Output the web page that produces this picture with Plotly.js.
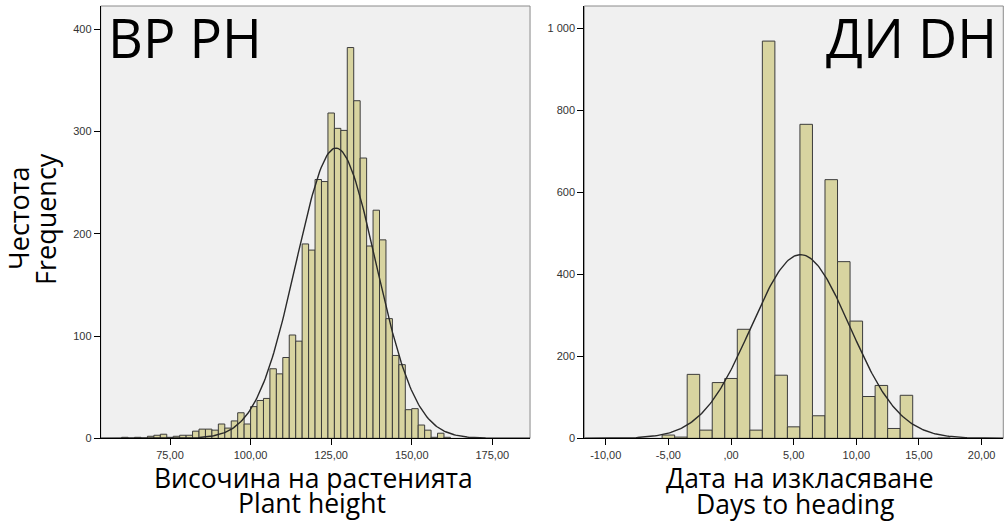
<!DOCTYPE html>
<html>
<head>
<meta charset="utf-8">
<script src="https://cdn.plot.ly/plotly-3.0.1.min.js"></script>
<style>html,body{margin:0;padding:0;background:#fff;}#chart{width:1005px;height:522px;}</style>
</head>
<body>
<div id="chart"></div>
<script>
// ---- Plant height (ВР PH) histogram: bin centres (bin width 2) and counts
const phBinCenters = [61,63,65,67,69,71,73,75,77,79,81,83,85,87,89,91,93,95,97,99,
  101,103,105,107,109,111,113,115,117,119,121,123,125,127,129,131,133,135,137,139,
  141,143,145,147,149,151,153,155,157,159,161];
const phCounts = [1,0,1,0,2,3,4,1,2,3,3,7,9,9,8,14,10,17,25,14,
  31,37,39,68,63,79,101,95,190,184,253,251,318,303,301,382,330,274,188,223,
  194,117,81,72,28,29,13,8,1,5,1];
const phBinWidth = 2;
const phMean = 126.5, phSD = 12.35;
const phTickVals = [75,100,125,150,175];
const phTickText = ["75,00","100,00","125,00","150,00","175,00"];
const phYTickVals = [0,100,200,300,400];
const phYTickText = ["0","100","200","300","400"];

// ---- Days to heading (ДИ DH) histogram: bin centres (bin width 1) and counts
const dhBinCenters = [-5,-4,-3,-2,-1,0,1,2,3,4,5,6,7,8,9,10,11,12,13,14,15,16,17];
const dhCounts = [8,3,156,20,136,146,266,20,969,154,28,766,55,631,431,286,102,129,24,105,0,0,1];
const dhBinWidth = 1;
const dhMean = 5.55, dhSD = 3.95;
const dhTickVals = [-10,-5,0,5,10,15,20];
const dhTickText = ["-10,00","-5,00",",00","5,00","10,00","15,00","20,00"];
const dhYTickVals = [0,200,400,600,800,1000];
const dhYTickText = ["0","200","400","600","800","1 000"];

// fitted normal curve (SPSS-style) from mean, sd and total count
function normalCurve(mean, sd, counts, bw, x0, x1) {
  const n = counts.reduce((a,b)=>a+b,0);
  const xs = [], ys = [];
  const steps = 300;
  for (let i=0;i<=steps;i++){
    const x = x0 + (x1-x0)*i/steps;
    const z = (x-mean)/sd;
    xs.push(x);
    ys.push(n*bw/(sd*Math.sqrt(2*Math.PI))*Math.exp(-0.5*z*z));
  }
  return {xs, ys};
}

const phRange = [53.5, 186.7];
const dhRange = [-11.71, 21.73];
const phCurve = normalCurve(phMean, phSD, phCounts, phBinWidth, phRange[0], phRange[1]);
const dhCurve = normalCurve(dhMean, dhSD, dhCounts, dhBinWidth, dhRange[0], dhRange[1]);

const barFill = '#d8d4a0';
const barLine = '#3c3c3c';
const curveColor = '#2a2a2a';

const traces = [
  {type:'bar', x: phBinCenters, y: phCounts, width: phBinCenters.map(()=>phBinWidth),
   marker:{color:barFill, line:{color:barLine, width:1}}, xaxis:'x', yaxis:'y', hoverinfo:'x+y'},
  {type:'scatter', mode:'lines', x: phCurve.xs, y: phCurve.ys,
   line:{color:curveColor, width:1.4}, xaxis:'x', yaxis:'y', hoverinfo:'skip'},
  {type:'bar', x: dhBinCenters, y: dhCounts, width: dhBinCenters.map(()=>dhBinWidth),
   marker:{color:barFill, line:{color:barLine, width:1}}, xaxis:'x2', yaxis:'y2', hoverinfo:'x+y'},
  {type:'scatter', mode:'lines', x: dhCurve.xs, y: dhCurve.ys,
   line:{color:curveColor, width:1.4}, xaxis:'x2', yaxis:'y2', hoverinfo:'skip'}
];

const tickFont = {family:'Liberation Sans, Arial, sans-serif', size:11, color:'#333'};
const axBase = {showgrid:false, zeroline:false, showline:true, linecolor:'#000', linewidth:1,
  ticks:'outside', ticklen:6, tickcolor:'#000', tickwidth:1, tickfont:tickFont, fixedrange:true};

const yDom = [0.1603, 0.9885];
const xTitleFont = {family:'Open Sans, Noto Sans, sans-serif', size:26.5, color:'#000'};
const yTitleFont = {family:'Open Sans, Noto Sans, sans-serif', size:27, color:'#000'};
const bigFont = {family:'Open Sans, Noto Sans, sans-serif', size:54, color:'#000'};
const H = 522, W = 1005;

function xTitle(text, cx, cy) {
  return {text:text, xref:'paper', yref:'paper', x:cx/W, y:1-cy/H,
    xanchor:'center', yanchor:'middle', borderpad:0, showarrow:false, font:xTitleFont};
}
function yTitle(text, cx, cy) {
  return {text:text, xref:'paper', yref:'paper', x:cx/W, y:1-cy/H,
    xanchor:'center', yanchor:'middle', borderpad:0, textangle:-90, showarrow:false, font:yTitleFont};
}

const layout = {
  width:W, height:H, autosize:false,
  margin:{l:0,r:0,t:0,b:0, pad:0},
  paper_bgcolor:'#ffffff', plot_bgcolor:'#f0f0f0',
  showlegend:false, bargap:0,
  xaxis: Object.assign({}, axBase, {domain:[0.1002,0.5274], range:phRange, tickvals:phTickVals, ticktext:phTickText, anchor:'y'}),
  yaxis: Object.assign({}, axBase, {domain:yDom, range:[0,422.6], tickvals:phYTickVals, ticktext:phYTickText, anchor:'x'}),
  xaxis2: Object.assign({}, axBase, {domain:[0.5814,0.9983], range:dhRange, tickvals:dhTickVals, ticktext:dhTickText, anchor:'y2'}),
  yaxis2: Object.assign({}, axBase, {domain:yDom, range:[0,1054.6], tickvals:dhYTickVals, ticktext:dhYTickText, anchor:'x2'}),
  shapes: [
    {type:'rect', xref:'x domain', yref:'y domain', x0:0, x1:1, y0:0, y1:1, line:{color:'#8a8a8a', width:1}, layer:'below'},
    {type:'rect', xref:'x2 domain', yref:'y2 domain', x0:0, x1:1, y0:0, y1:1, line:{color:'#8a8a8a', width:1}, layer:'below'}
  ],
  annotations: [
    {text:'ВР PH', xref:'paper', yref:'paper', x:106/W, y:1+2/H, xanchor:'left', yanchor:'top', showarrow:false, font:bigFont},
    {text:'ДИ DH', xref:'paper', yref:'paper', x:999/W, y:1+2/H, xanchor:'right', yanchor:'top', showarrow:false, font:bigFont},
    yTitle('Честота', 18, 219),
    yTitle('Frequency', 45, 219),
    xTitle('Височина на растенията', 313, 477.5),
    xTitle('Plant height', 312, 503),
    xTitle('Дата на изкласяване', 800, 478),
    xTitle('Days to heading', 795, 503.5)
  ]
};

Plotly.newPlot('chart', traces, layout, {displayModeBar:false, staticPlot:true});
</script>
</body>
</html>
